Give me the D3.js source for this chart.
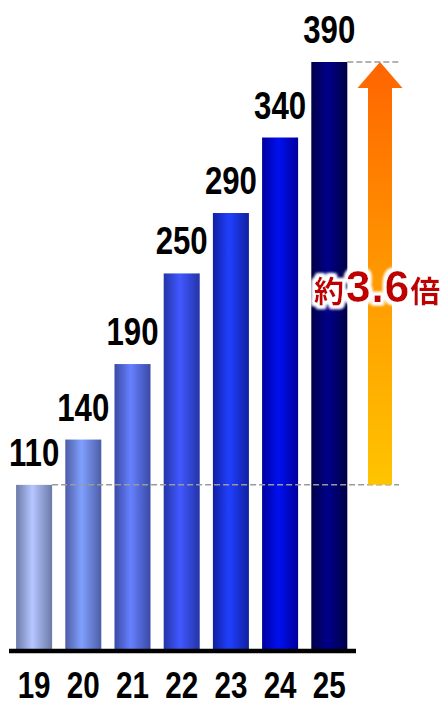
<!DOCTYPE html>
<html>
<head>
<meta charset="utf-8">
<script src="https://cdn.jsdelivr.net/npm/d3@7"></script>
<style>
  html, body { margin: 0; padding: 0; background: #fff; }
  svg { display: block; }
</style>
</head>
<body>
<svg id="chart" width="446" height="701"></svg>
<script>
// Yearly values
const years = ["19", "20", "21", "22", "23", "24", "25"];
const values = [110, 140, 190, 250, 290, 340, 390];
// Growth multiple shown beside the arrow
const growthLabel = ["約", "3.6", "倍"];
// Edge / centre colours of each cylinder-style bar
const edgeColors = ["#6c7aa8", "#4d5da6", "#3a4aa6", "#2434a8", "#1020a0", "#00009c", "#000045"];
const centerColors = ["#b6c6ff", "#80a0ff", "#6680ff", "#4058ff", "#2040ff", "#0010f0", "#00008a"];

const svg = d3.select("#chart");
const numFont = "'Liberation Sans', Arial, sans-serif";
const cjkFont = "'Noto Sans CJK JP', sans-serif";
const squeeze = 0.8;

const x = d3.scaleBand()
  .domain(years)
  .range([9.5, 353.9])
  .paddingInner(0.268)
  .paddingOuter(0.134);

const y = d3.scaleLinear()
  .domain([0, 390])
  .range([651, 62]);

const defs = svg.append("defs");

years.forEach((yr, i) => {
  const g = defs.append("linearGradient")
    .attr("id", "bar" + i)
    .attr("x1", "0%").attr("x2", "100%").attr("y1", "0%").attr("y2", "0%");
  g.append("stop").attr("offset", "0%").attr("stop-color", edgeColors[i]);
  g.append("stop").attr("offset", "45%").attr("stop-color", centerColors[i]);
  g.append("stop").attr("offset", "100%").attr("stop-color", edgeColors[i]);
});

const first = values[0], last = values[values.length - 1];

const arrowGrad = defs.append("linearGradient")
  .attr("id", "arrowGrad")
  .attr("gradientUnits", "userSpaceOnUse")
  .attr("x1", 0).attr("x2", 0)
  .attr("y1", y(last)).attr("y2", y(first));
arrowGrad.append("stop").attr("offset", "0%").attr("stop-color", "#ff6400");
arrowGrad.append("stop").attr("offset", "50%").attr("stop-color", "#ff9800");
arrowGrad.append("stop").attr("offset", "100%").attr("stop-color", "#ffc400");

// White halo behind the ratio label
const glow = defs.append("filter").attr("id", "glow")
  .attr("x", "-20%").attr("y", "-30%").attr("width", "140%").attr("height", "160%");
glow.append("feMorphology").attr("in", "SourceAlpha").attr("operator", "dilate").attr("radius", 2.5).attr("result", "thick");
glow.append("feGaussianBlur").attr("in", "thick").attr("stdDeviation", 1.6).attr("result", "blur");
glow.append("feFlood").attr("flood-color", "#ffffff");
glow.append("feComposite").attr("in2", "blur").attr("operator", "in").attr("result", "halo");
const merge = glow.append("feMerge");
merge.append("feMergeNode").attr("in", "halo");
merge.append("feMergeNode").attr("in", "halo");
merge.append("feMergeNode").attr("in", "SourceGraphic");

// Bars
svg.append("g").selectAll("rect")
  .data(values)
  .join("rect")
  .attr("x", (d, i) => x(years[i]))
  .attr("y", d => y(d))
  .attr("width", x.bandwidth())
  .attr("height", d => y(0) - y(d))
  .attr("fill", (d, i) => `url(#bar${i})`);

// Value labels
svg.append("g").selectAll("text")
  .data(values)
  .join("text")
  .attr("transform", (d, i) => `translate(${x(years[i]) + x.bandwidth() / 2},${y(d) - 19}) scale(${squeeze},1)`)
  .attr("text-anchor", "middle")
  .attr("font-family", numFont)
  .attr("font-weight", "bold")
  .attr("font-size", 39)
  .attr("fill", "#000")
  .text(d => d);

// Reference dashed lines at first and last values
const arrowX = 380;
const dash = svg.append("g")
  .attr("stroke", "#9a9a9a")
  .attr("stroke-width", 1.5)
  .attr("stroke-dasharray", "6,3");
dash.append("line")
  .attr("x1", x(years[0]) + x.bandwidth()).attr("x2", 399)
  .attr("y1", y(first)).attr("y2", y(first));
dash.append("line")
  .attr("x1", x(years[years.length - 1]) + x.bandwidth()).attr("x2", 399)
  .attr("y1", y(last)).attr("y2", y(last));

// Growth arrow from first to last value
const shaftW = 24, headW = 45, headH = 26;
const arrowTop = y(last), arrowBottom = y(first);
const arrowPts = [
  [arrowX - shaftW / 2, arrowBottom],
  [arrowX - shaftW / 2, arrowTop + headH],
  [arrowX - headW / 2, arrowTop + headH],
  [arrowX, arrowTop],
  [arrowX + headW / 2, arrowTop + headH],
  [arrowX + shaftW / 2, arrowTop + headH],
  [arrowX + shaftW / 2, arrowBottom]
];
svg.append("path")
  .attr("d", d3.line()(arrowPts) + "Z")
  .attr("fill", "url(#arrowGrad)");

// Ratio label
const label = svg.append("text")
  .attr("x", 314)
  .attr("y", 302)
  .attr("fill", "#c00000")
  .attr("font-weight", "bold")
  .attr("filter", "url(#glow)");
label.append("tspan")
  .attr("font-family", cjkFont)
  .attr("font-size", 30)
  .text(growthLabel[0]);
label.append("tspan")
  .attr("font-family", numFont)
  .attr("font-size", 44)
  .attr("letter-spacing", 1)
  .attr("dx", 2)
  .text(growthLabel[1]);
label.append("tspan")
  .attr("font-family", cjkFont)
  .attr("font-size", 30)
  .text(growthLabel[2]);

// Baseline
svg.append("line")
  .attr("x1", 9).attr("x2", 356)
  .attr("y1", y(0)).attr("y2", y(0))
  .attr("stroke", "#000")
  .attr("stroke-width", 4.5);

// Category axis
const axis = svg.append("g")
  .attr("transform", `translate(0,${y(0)})`)
  .call(d3.axisBottom(x).tickSize(0).tickPadding(0));
axis.select(".domain").remove();
axis.selectAll("text")
  .attr("y", 0)
  .attr("dy", 0)
  .attr("transform", `translate(0,47) scale(${squeeze},1)`)
  .attr("font-family", numFont)
  .attr("font-weight", "bold")
  .attr("font-size", 37)
  .attr("fill", "#000");
</script>
</body>
</html>
